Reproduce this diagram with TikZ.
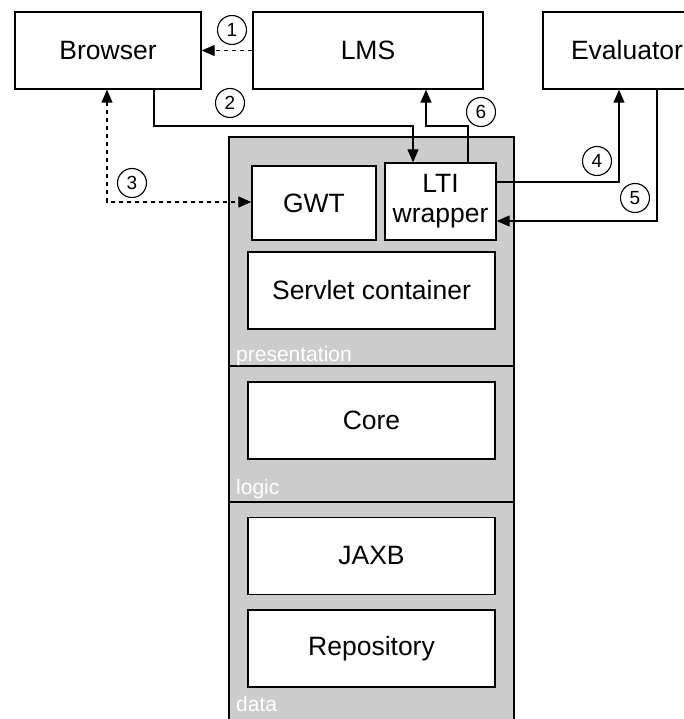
\documentclass[tikz,border=0pt]{standalone}
\usepackage{fontspec}
\setmainfont{Liberation Sans}
\usetikzlibrary{arrows.meta,positioning}

\begin{document}
\begin{tikzpicture}[
x=1pt, y=-1pt,
>={Triangle[length=13pt,width=11pt]},
Boxes/.style={draw=black,fill=white,line width=1.4pt,minimum height=77pt,inner sep=0pt,align=center,font=\fontsize{26.5}{30}\selectfont},
Layer/.style={draw=black,fill=black!20,line width=1.4pt,minimum width=285pt,inner sep=0pt},
LayerName/.style={anchor=base west,text=white,inner sep=0pt,font=\fontsize{21}{24}\selectfont},
Links/.style={line width=1.3pt},
Steps/.style={draw=black,circle,line width=1.1pt,minimum size=29pt,inner sep=0pt,font=\fontsize{19}{22}\selectfont}
]
\useasboundingbox (0,0) rectangle (684,719);

% outside systems
\node[Boxes,minimum width=186pt] (Browser) at (108,50.5) {Browser};
\node[Boxes,minimum width=230pt] (LMS) at (368,50.5) {LMS};
\node[Boxes,minimum width=168pt] (Evaluator) at (627,50.5) {Evaluator};

% the three layers
\node[Layer,minimum height=229pt] (Pres) at (371.5,251.5) {};
\node[Layer,minimum height=136pt] (Logic) at (371.5,434) {};
\node[Layer,minimum height=238pt] (Data) at (371.5,621) {};

\node[LayerName] (PresName) at (236,361) {presentation};
\node[LayerName] (LogicName) at (236,494) {logic};
\node[LayerName] (DataName) at (236,711) {data};

% components
\node[Boxes,minimum width=124pt,minimum height=74pt] (GWT) at (314,203) {GWT};
\node[Boxes,minimum width=111pt] (LTI) at (440.5,201.5) {LTI\\wrapper};
\node[Boxes,minimum width=247pt] (Servlet) at (371.5,290.5) {Servlet container};
\node[Boxes,minimum width=247pt] (Core) at (371.5,420.5) {Core};
\node[Boxes,minimum width=247pt] (JAXB) at (371.5,556) {JAXB};
\node[Boxes,minimum width=247pt,below=14pt of JAXB] (Repo) {Repository};

% bend points of the links
\coordinate (c2a) at (154,126);
\coordinate (c2b) at (413,126);
\coordinate (c3) at (107,202);
\coordinate (c4) at (619,182);
\coordinate (c5) at (657,221);
\coordinate (c6a) at (468,126);
\coordinate (c6b) at (426,126);

\draw[Links,->,dash pattern=on 4pt off 4pt] (LMS.west) -- (Browser.east);
\draw[Links,->] (Browser.south -| c2a) -- (c2a) -- (c2b) -- (LTI.north -| c2b);
\draw[Links,<->,dash pattern=on 4pt off 4pt] (Browser.south -| c3) -- (c3) -- (GWT.west |- c3);
\draw[Links,->] (LTI.east |- c4) -- (c4) -- (Evaluator.south -| c4);
\draw[Links,->] (Evaluator.south -| c5) -- (c5) -- (LTI.east |- c5);
\draw[Links,->] (LTI.north -| c6a) -- (c6a) -- (c6b) -- (LMS.south -| c6b);

% step numbers
\node[Steps] (s1) at (232,30) {1};
\node[Steps] (s2) at (230,103) {2};
\node[Steps] (s3) at (132,183) {3};
\node[Steps] (s4) at (597,161) {4};
\node[Steps] (s5) at (635,198) {5};
\node[Steps] (s6) at (481,112) {6};

\end{tikzpicture}
\end{document}
